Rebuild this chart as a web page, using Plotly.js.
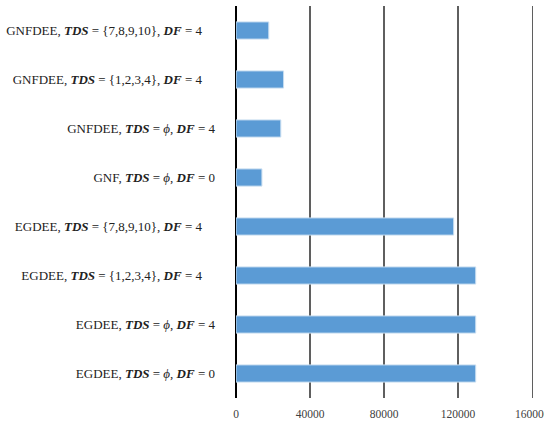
<!DOCTYPE html>
<html>
<head>
<meta charset="utf-8">
<script src="https://cdn.plot.ly/plotly-3.0.1.min.js"></script>
<style>
  html, body { margin: 0; padding: 0; background: #fff; overflow: hidden; }
  #chart { width: 544px; height: 424px; }
</style>
</head>
<body>
<div id="chart"></div>
<script>
// Configurations, listed bottom to top
const methods = ['EGDEE', 'EGDEE', 'EGDEE', 'EGDEE', 'GNF', 'GNFDEE', 'GNFDEE', 'GNFDEE'];
const tdsSets = ['ϕ', 'ϕ', '{1,2,3,4}', '{7,8,9,10}', 'ϕ', 'ϕ', '{1,2,3,4}', '{7,8,9,10}'];
const dfValues = [0, 4, 4, 4, 0, 4, 4, 4];
const values = [129500, 129500, 129500, 117600, 14000, 24200, 25700, 17700];
const xTicks = [0, 40000, 80000, 120000, 160000];

const ids = methods.map((m, i) => m + '|' + tdsSets[i] + '|' + dfValues[i]);
const labels = methods.map((m, i) => {
  const isEmpty = tdsSets[i] === 'ϕ';
  const tds = isEmpty ? '<i>ϕ</i>' : tdsSets[i];
  const pad = isEmpty ? '' : '&#160;&#160;&#160;&#160;';
  return m + ', <b><i>TDS</i></b> = ' + tds + ', <b><i>DF</i></b> = ' + dfValues[i] + pad;
});

const trace = {
  type: 'bar',
  orientation: 'h',
  y: ids,
  x: values,
  marker: { color: '#5B9BD5', line: { color: '#c6dcf0', width: 1 } },
  hoverinfo: 'x'
};

const layout = {
  width: 544,
  height: 424,
  margin: { l: 236, r: 10, t: 6, b: 26, pad: 0 },
  paper_bgcolor: '#ffffff',
  plot_bgcolor: '#ffffff',
  showlegend: false,
  bargap: 0.65,
  font: { family: 'Liberation Serif, DejaVu Serif, serif', size: 12, color: '#333333' },
  xaxis: {
    range: [0, 161000],
    tickvals: xTicks,
    ticktext: xTicks.map(String),
    showgrid: true,
    gridcolor: '#5f5f5f',
    gridwidth: 1.3,
    zeroline: true,
    zerolinecolor: '#000000',
    zerolinewidth: 1.6,
    showline: false,
    ticks: '',
    ticklabelstandoff: 7,
    ticklabeloverflow: 'allow',
    tickfont: { family: 'Liberation Serif, DejaVu Serif, serif', size: 11.5, color: '#404040' },
    fixedrange: true
  },
  yaxis: {
    type: 'category',
    range: [-0.5, 7.5],
    tickvals: ids,
    ticktext: labels,
    showgrid: false,
    zeroline: false,
    showline: false,
    ticks: '',
    ticklabelstandoff: 20,
    tickfont: { family: 'Liberation Serif, DejaVu Serif, serif', size: 13, color: '#222222' },
    automargin: false,
    fixedrange: true
  }
};

Plotly.newPlot('chart', [trace], layout, { displayModeBar: false, staticPlot: true });
</script>
</body>
</html>
